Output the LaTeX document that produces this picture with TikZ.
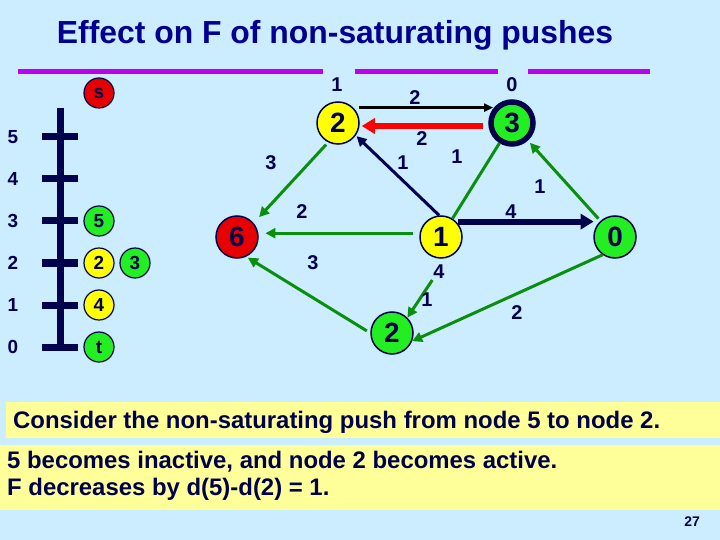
\documentclass[tikz,border=0pt]{standalone}
\usepackage{xcolor}
\usepackage{tikz}
\usetikzlibrary{arrows.meta, calc, positioning}
\usepackage{fontspec}
\setmainfont{Liberation Sans}
\definecolor{SkyBack}   {HTML}{CCECFF}
\definecolor{NoteYellow}{HTML}{FFFF99}
\definecolor{Ink}       {HTML}{00004D}
\definecolor{TitleBlue} {HTML}{000090}
\definecolor{Violet}    {HTML}{BB00EE}
\definecolor{NodeYellow}{HTML}{FFFF00}
\definecolor{NodeGreen} {HTML}{22EE22}
\definecolor{NodeRed}   {HTML}{E60000}
\definecolor{ArcGreen}  {HTML}{0A8F0A}
\definecolor{PushRed}   {HTML}{FF0000}

\begin{document}
\begin{tikzpicture}[x=1bp, y=-1bp, font=\bfseries,
    bignode/.style={circle, draw=Ink, line width=1.5bp, minimum size=42bp,
                    inner sep=0pt, text=Ink, font=\fontsize{28}{28}\selectfont\bfseries},
    lvlnode/.style={circle, draw=Ink, line width=1.2bp, minimum size=30bp,
                    inner sep=0pt, text=Ink, font=\fontsize{19}{19}\selectfont\bfseries},
    num/.style={text=Ink, inner sep=1bp, font=\fontsize{20}{20}\selectfont\bfseries},
    lvlnum/.style={text=Ink, inner sep=0pt, font=\fontsize{19}{19}\selectfont\bfseries},
    greenarc/.style={draw=ArcGreen, line width=3bp, -{Triangle[length=10bp, width=10bp]}},
    navyarc/.style={draw=Ink, line width=3bp, -{Triangle[length=10bp, width=10bp]}},
    bigarc/.style={line width=6bp, -{Triangle[length=13bp, width=15bp]}},
    sidebar/.style={draw=Violet, line width=5bp}]
  \useasboundingbox (0,0) rectangle (720,540);
  \fill[SkyBack] (0,0) rectangle (720,540);

  % Title and distance bars
  \node[anchor=base, text=TitleBlue, font=\fontsize{32}{32}\selectfont\bfseries]
        (title) at (335,44) {Effect on F of non-saturating pushes};
  \draw[sidebar] (18,72) -- (323,72);
  \draw[sidebar] (355,72) -- (498,72);
  \draw[sidebar] (528,72) -- (650,72);

  % Level ladder
  \draw[Ink, line width=7bp] (60,108) -- (60,351);
  \foreach \lev in {0,...,5} {
    \draw[Ink, line width=7bp] (42,347-42*\lev) -- (78,347-42*\lev);
    \node[lvlnum] (lev\lev) at (13,347-42*\lev) {\lev};
  }
  \node[lvlnode, fill=NodeRed]    (ls) at (99,93)   {s};
  \node[lvlnode, fill=NodeGreen]  (l5) at (99,221)  {5};
  \node[lvlnode, fill=NodeYellow] (l2) at (99,263)  {2};
  \node[lvlnode, fill=NodeGreen]  (l3) at (135,263) {3};
  \node[lvlnode, fill=NodeYellow] (l4) at (99,305)  {4};
  \node[lvlnode, fill=NodeGreen]  (lt) at (99,347)  {t};

  % Residual network
  \node[bignode, fill=NodeYellow] (u2) at (338,123) {2};
  \node[bignode, fill=NodeGreen, line width=5.5bp] (n3) at (512,123) {3};
  \node[bignode, fill=NodeRed]    (n6) at (237,237) {6};
  \node[bignode, fill=NodeYellow] (n1) at (441,237) {1};
  \node[bignode, fill=NodeGreen]  (n0) at (615,237) {0};
  \node[bignode, fill=NodeGreen]  (b2) at (392,333) {2};

  % Distance labels
  \node[num] (du2) at (337,85)  {1};
  \node[num] (dn3) at (512,85)  {0};
  \node[num] (dn1) at (439,272) {4};

  % Arcs
  \draw[draw=black, line width=2.5bp, -{Triangle[length=9bp, width=8bp]},
        shorten <=6bp, shorten >=2bp] (u2.45) -- (u2.45 -| n3.135);
  \draw[bigarc, draw=PushRed, shorten <=5bp, shorten >=2bp]
        ([yshift=-3bp]n3.west) -- ([yshift=-3bp]u2.east);
  \draw[navyarc, shorten >=1bp] (n1.95) -- (u2.-35);
  \draw[draw=ArcGreen, line width=3bp] (n1) -- (n3);
  \draw[greenarc, shorten <=3bp, shorten >=3bp] (n0) -- (n3);
  \draw[bigarc, draw=Ink, shorten <=2bp, shorten >=6bp] (n1.45) -- (n0.135);
  \draw[greenarc] (n0.-125) -- (b2.-22);
  \draw[greenarc] (dn1.south west) -- (b2.45);
  \draw[greenarc, shorten <=7bp, shorten >=7bp] (n1.170) -- (n6.10);
  \draw[greenarc, shorten <=4bp, shorten >=2bp] (b2.180) -- (n6.-65);
  \draw[greenarc, shorten <=3bp, shorten >=8bp] (u2.-117) -- (n6.40);

  % Arc labels
  \node[num] (c1) at (415,98)  {2};
  \node[num] (c2) at (422,139) {2};
  \node[num] (c3) at (403,163) {1};
  \node[num] (c4) at (457,157) {1};
  \node[num] (c5) at (540,187) {1};
  \node[num] (c6) at (511,212) {4};
  \node[num] (c7) at (517,313) {2};
  \node[num] (c8) at (427,300) {1};
  \node[num] (c9) at (302,212) {2};
  \node[num] (c10) at (313,263) {3};
  \node[num] (c11) at (271,163) {3};

  % Notes
  \fill[NoteYellow] (6,402) rectangle (720,438);
  \fill[NoteYellow] (0,445) rectangle (720,510);
  \node[anchor=base west, inner sep=0pt, text=Ink, font=\fontsize{24}{24}\selectfont\bfseries]
        (note1) at (13,428) {Consider the non-saturating push from node 5 to node 2.};
  \node[anchor=base west, inner sep=0pt, text=Ink, font=\fontsize{24}{24}\selectfont\bfseries]
        (note2) at (7,468) {5 becomes inactive, and node 2 becomes active.};
  \node[anchor=base west, inner sep=0pt, text=Ink, font=\fontsize{24}{24}\selectfont\bfseries]
        (note3) at (7,495) {F decreases by d(5)-d(2) = 1.};
  \node[anchor=base, inner sep=0pt, text=Ink, font=\fontsize{14}{14}\selectfont\bfseries]
        (page) at (692,526) {27};
\end{tikzpicture}
\end{document}
